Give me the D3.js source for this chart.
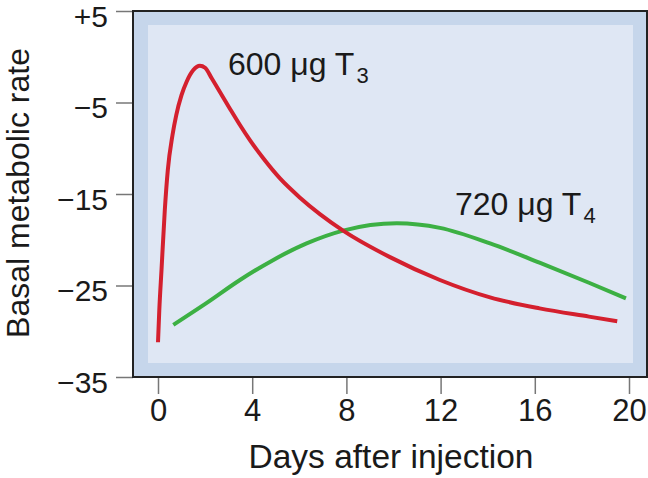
<!DOCTYPE html>
<html>
<head>
<meta charset="utf-8">
<script src="https://cdn.jsdelivr.net/npm/d3@7"></script>
<style>
  html, body { margin: 0; padding: 0; background: #fff; }
  svg { display: block; font-family: "Liberation Sans", Arial, Helvetica, sans-serif; }
</style>
</head>
<body>
<svg id="chart" width="648" height="478"></svg>
<script>
// ---- data ----
const t3Days   = [0, 0.055, 0.149, 0.289, 0.416, 0.616, 0.773, 0.998, 1.22, 1.5, 1.78, 2.0, 2.28, 2.63, 3.06, 3.48, 3.91, 4.47, 5.18, 6.03, 7.86, 9.85, 11.97, 14.1, 16.2, 18.3, 19.5];
const t3Values = [-31.2, -27.7, -23.3, -16.75, -12.4, -8.55, -6.4, -4.2, -2.7, -1.45, -0.98, -1.2, -2.35, -3.85, -5.7, -7.46, -9.14, -11.1, -13.3, -15.4, -19.0, -21.9, -24.4, -26.3, -27.5, -28.4, -28.9];
const t4Days   = [0.65, 2.07, 3.48, 4.9, 6.31, 7.86, 10.14, 11.97, 14.1, 16.2, 18.3, 19.87];
const t4Values = [-29.3, -26.9, -24.4, -22.2, -20.4, -19.0, -18.2, -18.7, -20.4, -22.5, -24.7, -26.4];
const xTickValues = [0, 4, 8, 12, 16, 20];
const yTickValues = [5, -5, -15, -25, -35];
const yTickLabels = ["+5", "\u22125", "\u221215", "\u221225", "\u221235"];
const xTitle = "Days after injection";
const yTitle = "Basal metabolic rate";

// ---- layout ----
const svg = d3.select("#chart");
const x = d3.scaleLinear().domain([0, 20]).range([158, 629]);
const y = d3.scaleLinear().domain([-35, 5]).range([377, 11]);
const frame = {left: 133, right: 647, top: 11, bottom: 377};

// panels
svg.append("rect")
  .attr("x", frame.left).attr("y", frame.top)
  .attr("width", frame.right - frame.left).attr("height", frame.bottom - frame.top)
  .attr("fill", "#c6d6eb");
svg.append("rect")
  .attr("x", 148).attr("y", 25)
  .attr("width", 633 - 148).attr("height", 363 - 25)
  .attr("fill", "#dfe7f4");

// axes
const yAxis = d3.axisLeft(y).tickValues(yTickValues).tickSize(17)
  .tickFormat((d, i) => yTickLabels[i]).tickPadding(8);
const gy = svg.append("g").attr("transform", `translate(${frame.left},0)`).call(yAxis);
gy.select(".domain").remove();
gy.selectAll(".tick line").attr("stroke", "#777").attr("stroke-width", 1.5);
gy.selectAll(".tick text").attr("font-size", 30).attr("fill", "#1a1a1a")
  .attr("dy", "0.5em").attr("font-family", "Liberation Sans, Arial, sans-serif");

const xAxis = d3.axisBottom(x).tickValues(xTickValues).tickSize(17).tickPadding(5);
const gx = svg.append("g").attr("transform", `translate(0,${frame.bottom})`).call(xAxis);
gx.select(".domain").remove();
gx.selectAll(".tick line").attr("stroke", "#777").attr("stroke-width", 1.5);
gx.selectAll(".tick text").attr("font-size", 31).attr("fill", "#1a1a1a")
  .attr("font-family", "Liberation Sans, Arial, sans-serif");

// frame
svg.append("rect")
  .attr("x", frame.left).attr("y", frame.top)
  .attr("width", frame.right - frame.left).attr("height", frame.bottom - frame.top)
  .attr("fill", "none").attr("stroke", "#222").attr("stroke-width", 2);

// lines
const line = d3.line().x(d => x(d[0])).y(d => y(d[1])).curve(d3.curveMonotoneX);
svg.append("path")
  .datum(t4Days.map((d, i) => [d, t4Values[i]]))
  .attr("d", line).attr("fill", "none").attr("stroke", "#3cb043").attr("stroke-width", 4);
svg.append("path")
  .datum(t3Days.map((d, i) => [d, t3Values[i]]))
  .attr("d", line).attr("fill", "none").attr("stroke", "#d4202e").attr("stroke-width", 4);

// labels
function label(xp, yp, main, sub) {
  const t = svg.append("text").attr("x", xp).attr("y", yp)
    .attr("font-size", 32).attr("fill", "#1a1a1a");
  t.append("tspan").text(main);
  t.append("tspan").attr("dx", 2).attr("dy", 8).attr("font-size", 22).text(sub);
}
label(228, 75, "600 \u03bcg T", "3");
label(455, 215, "720 \u03bcg T", "4");

// axis titles
svg.append("text").attr("x", 391).attr("y", 468).attr("text-anchor", "middle")
  .attr("font-size", 33.5).attr("fill", "#1a1a1a").text(xTitle);
svg.append("text").attr("transform", "translate(29,193) rotate(-90)")
  .attr("text-anchor", "middle").attr("font-size", 32).attr("fill", "#1a1a1a").text(yTitle);
</script>
</body>
</html>
